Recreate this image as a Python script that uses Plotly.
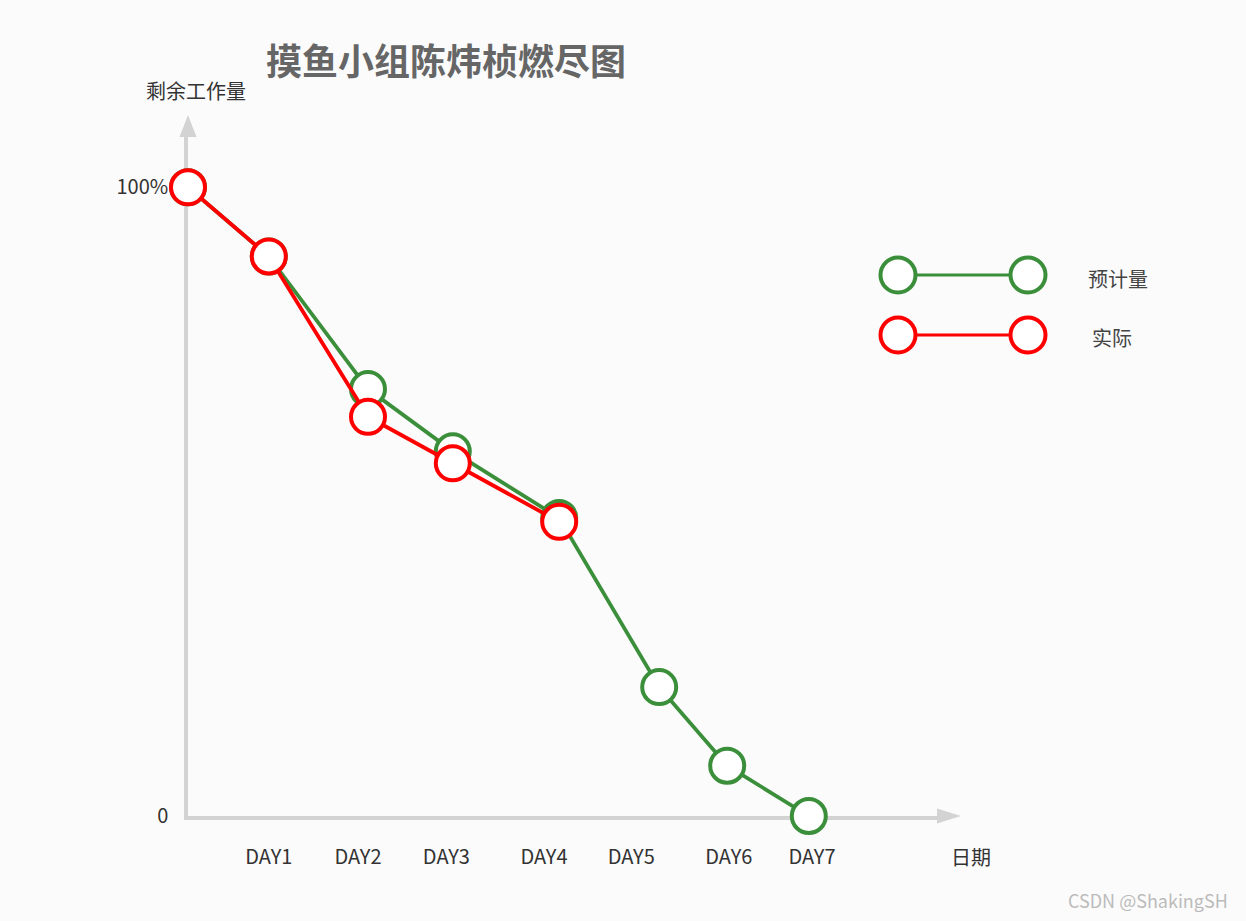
import plotly.graph_objects as go

# ---------------- data ----------------
tick_labels = ["DAY1", "DAY2", "DAY3", "DAY4", "DAY5", "DAY6", "DAY7"]
tick_pos = [1.01, 2.125, 3.23, 4.45, 5.54, 6.76, 7.80]

plan_x = [0, 1.01, 2.25, 3.31, 4.64, 5.89, 6.74, 7.76]
plan_y = [100, 89.0, 67.9, 58.0, 47.4, 20.5, 8.0, 0]

actual_x = [0, 1.01, 2.25, 3.31, 4.64]
actual_y = [100, 89.0, 63.5, 56.1, 46.8]

series_names = ["预计量", "实际"]
series_colors = ["#3B8F3B", "#FF0000"]

# ---------------- layout helpers ----------------
W, H = 1230, 905          # figure size (page has 8px body margin)
OFF = 8
FONT = "Noto Sans CJK SC"
AXIS_COLOR = "#D3D3D3"
BG = "#FBFBFB"


def px(x, y):
    """screen pixel -> paper coords"""
    return (x - OFF) / W, 1 - (y - OFF) / H


x0_px, x1_px = 188, 937      # x axis from origin to arrow base
y0_px, y1_px = 816, 137      # y axis from origin to arrow base
x_scale = 80.0               # px per x unit
y_scale = 6.287              # px per y unit

fig = go.Figure()

for xs, ys, name, col in [(plan_x, plan_y, series_names[0], series_colors[0]),
                          (actual_x, actual_y, series_names[1], series_colors[1])]:
    fig.add_trace(go.Scatter(
        x=xs, y=ys, name=name, mode="lines+markers",
        line=dict(color=col, width=3.8),
        marker=dict(size=34, color="white", line=dict(color=col, width=4)),
        cliponaxis=False, showlegend=False, xaxis="x", yaxis="y"))

# custom legend keys (hidden full-figure axes, screen-pixel frame)
leg_x = [898, 1028]
leg_y = [275, 335]
for i, (name, col) in enumerate(zip(series_names, series_colors)):
    fig.add_trace(go.Scatter(
        x=leg_x, y=[leg_y[i]] * 2, mode="lines+markers",
        line=dict(color=col, width=2.8),
        marker=dict(size=35, color="white", line=dict(color=col, width=4)),
        cliponaxis=False, showlegend=False, hoverinfo="skip",
        xaxis="x2", yaxis="y2"))

xd0 = (x0_px - OFF) / W
xd1 = (x1_px - OFF) / W
yd0 = 1 - (y0_px - OFF) / H
yd1 = 1 - (y1_px - OFF) / H

fig.update_layout(
    width=W, height=H,
    margin=dict(l=0, r=0, t=0, b=0, autoexpand=False),
    paper_bgcolor=BG, plot_bgcolor="rgba(0,0,0,0)",
    font=dict(family=FONT, color="#333333", size=20),
    showlegend=False,
    xaxis=dict(domain=[xd0, xd1], range=[0, (x1_px - x0_px) / x_scale],
               showline=True, linecolor=AXIS_COLOR, linewidth=3.5,
               showgrid=False, zeroline=False, ticks="",
               tickvals=tick_pos, ticktext=tick_labels,
               tickfont=dict(size=20, color="#333333"),
               ticklabelstandoff=20, layer="below traces",
               automargin=False, anchor="y", fixedrange=True),
    yaxis=dict(domain=[yd0, yd1], range=[0, (y0_px - y1_px) / y_scale],
               showline=True, linecolor=AXIS_COLOR, linewidth=3.5,
               showgrid=False, zeroline=False, ticks="",
               tickvals=[0, 100], ticktext=["0", "100%"],
               tickfont=dict(size=20, color="#333333"),
               ticklabelstandoff=12, layer="below traces",
               automargin=False, anchor="x", fixedrange=True),
    xaxis2=dict(domain=[0, 1], range=[OFF, OFF + W], visible=False,
                automargin=False, anchor="y2", fixedrange=True),
    yaxis2=dict(domain=[0, 1], range=[OFF + H, OFF], visible=False,
                automargin=False, anchor="x2", fixedrange=True),
)

# axis arrow heads (drawn in the full-figure pixel frame)
fig.add_shape(type="path", xref="x2", yref="y2",
              path=f"M{x0_px-8.5},{y1_px} L{x0_px+8.5},{y1_px} L{x0_px},{y1_px-22} Z",
              fillcolor=AXIS_COLOR, line=dict(width=0), layer="below")
fig.add_shape(type="path", xref="x2", yref="y2",
              path=f"M{x1_px},{y0_px-7.5} L{x1_px},{y0_px+7.5} L{x1_px+24},{y0_px} Z",
              fillcolor=AXIS_COLOR, line=dict(width=0), layer="below")


def ann(text, x, y, size, color, bold=False, xanchor="center"):
    ax, ay = px(x, y)
    fig.add_annotation(text=f"<b>{text}</b>" if bold else text,
                       xref="paper", yref="paper", x=ax, y=ay,
                       xanchor=xanchor, yanchor="middle", showarrow=False,
                       font=dict(family=FONT, size=size, color=color))


ann("摸鱼小组陈炜桢燃尽图", 446, 59, 36, "#666666", bold=True)
ann("剩余工作量", 196, 90, 20, "#333333")
ann("日期", 971, 856, 20, "#333333")
ann(series_names[0], 1118, 278, 20, "#444444")
ann(series_names[1], 1112, 338, 20, "#444444")
ann("CSDN @ShakingSH", 1148, 900, 18, "#BBBBBB")

fig.write_html("out.html",
               post_script=f"document.body.style.backgroundColor='{BG}';")
